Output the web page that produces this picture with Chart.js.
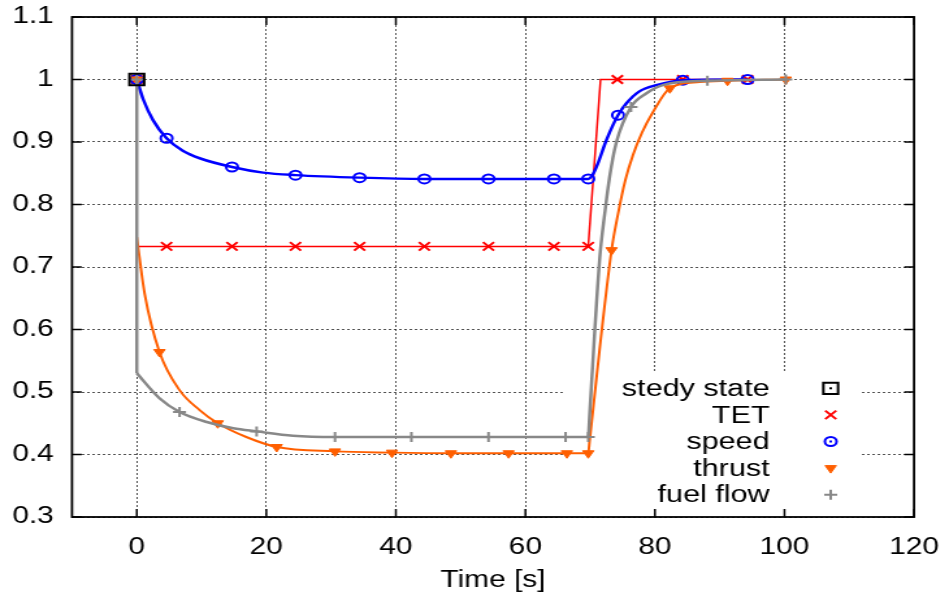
<!DOCTYPE html>
<html>
<head>
<meta charset="utf-8">
<title>Resposta no tempo</title>
<script src="https://cdn.jsdelivr.net/npm/chart.js@4.4.1/dist/chart.umd.min.js"></script>
<style>
  html, body { margin: 0; padding: 0; background: #fff; overflow: hidden; }
  /* a figura original e esticada na horizontal, entao o canvas tambem */
  #wrap { width: 724px; height: 596px; transform: scaleX(1.3); transform-origin: 0 0; }
</style>
</head>
<body>
<div id="wrap"><canvas id="chartResp" width="724" height="596"></canvas></div>
<script>
// ==================== DADOS ====================
const xTicks = [0, 20, 40, 60, 80, 100, 120];
const yTicks = [0.3, 0.4, 0.5, 0.6, 0.7, 0.8, 0.9, 1.0, 1.1];
const yTickLabels = ['0.3', '0.4', '0.5', '0.6', '0.7', '0.8', '0.9', '1', '1.1'];
const seriesNames = ['stedy state', 'TET', 'speed', 'thrust', 'fuel flow'];

// [tempo (s), valor normalizado]
const steadyMarks = [[0, 1.0]];

const tetCurve = [[0, 1.0], [0, 0.733], [69.7, 0.733], [71.6, 1.0], [94.3, 1.0]];
const tetMarks = [[0, 1.0], [4.6, 0.733], [14.7, 0.733], [24.5, 0.733], [34.4, 0.733], [44.4, 0.733],
  [54.3, 0.733], [64.4, 0.733], [69.7, 0.733], [74.2, 1.0], [84.3, 1.0], [94.3, 1.0]];

const speedCurve = [[0, 1.0], [1.0, 0.968], [2.5, 0.935], [4.6, 0.906], [7.1, 0.886], [9.7, 0.874],
  [14.7, 0.860], [19.5, 0.851], [24.5, 0.847], [34.4, 0.843], [44.4, 0.841], [69.7, 0.841],
  [70.4, 0.848], [71.2, 0.866], [72.5, 0.903], [74.3, 0.943], [75.6, 0.962], [77.6, 0.981],
  [80.2, 0.991], [84.3, 0.999], [94.3, 1.0]];
const speedMarks = [[0, 1.0], [4.6, 0.906], [14.7, 0.860], [24.5, 0.847], [34.4, 0.843], [44.4, 0.841],
  [54.3, 0.841], [64.4, 0.841], [69.7, 0.841], [74.3, 0.943], [84.3, 0.999], [94.3, 1.0]];

const thrustCurve = [[0, 0.748], [1.2, 0.658], [3.5, 0.564], [6.6, 0.503], [9.7, 0.471], [12.5, 0.450],
  [16.9, 0.428], [21.6, 0.412], [30.6, 0.405], [39.4, 0.403], [48.5, 0.402], [69.7, 0.402],
  [69.9, 0.421], [73.3, 0.727], [74.3, 0.785], [75.4, 0.838], [76.6, 0.879], [78.0, 0.915],
  [79.7, 0.948], [82.3, 0.986], [86.9, 0.996], [91.2, 0.998], [100.2, 1.0]];
const thrustMarks = [[0, 1.0], [3.5, 0.564], [12.5, 0.450], [21.6, 0.412], [30.6, 0.405], [39.4, 0.403],
  [48.5, 0.402], [57.4, 0.402], [66.4, 0.402], [69.7, 0.402], [73.3, 0.727], [82.3, 0.986],
  [91.2, 0.998], [100.2, 1.0]];

const fuelStep = [[0, 1.0], [0, 0.530]];
const fuelCurve = [[0, 0.530], [3.5, 0.490], [6.6, 0.468], [10.8, 0.452], [14.9, 0.442], [18.5, 0.437],
  [24.1, 0.430], [30.6, 0.428], [69.7, 0.428], [69.9, 0.461], [71.45, 0.711], [72.3, 0.790],
  [73.0, 0.844], [74.0, 0.898], [76.3, 0.956], [78.7, 0.978], [81.2, 0.991], [88.1, 0.998], [100.2, 1.0]];
const fuelMarks = [[0, 1.0], [6.6, 0.468], [18.5, 0.437], [30.6, 0.428], [42.4, 0.428], [54.3, 0.428],
  [66.2, 0.428], [69.7, 0.428], [76.3, 0.956], [88.1, 0.998], [100.2, 1.0]];

// ==================== ESTILOS ====================
const sty = {
  steady: { color: '#000000', fill: 'rgba(0,0,0,0)', shape: 'rect', radius: 8, rotation: 0, width: 2, dot: true },
  tet:    { color: '#ff0000', fill: 'rgba(0,0,0,0)', shape: 'crossRot', radius: 6, rotation: 0, width: 2, line: 1.5 },
  speed:  { color: '#0000ff', fill: 'rgba(0,0,0,0)', shape: 'circle', radius: 4.5, rotation: 0, width: 2, line: 2.5, dot: true },
  thrust: { color: '#ff5f00', fill: '#ff5f00', shape: 'triangle', radius: 5, rotation: 180, width: 1, line: 2 },
  fuel:   { color: '#888888', fill: 'rgba(0,0,0,0)', shape: 'cross', radius: 5, rotation: 0, width: 2, line: 2.5 }
};
const legendStyles = [sty.steady, sty.tet, sty.speed, sty.thrust, sty.fuel];

const toXY = pts => pts.map(([x, y]) => ({ x, y }));

function curveSet(pts, s, order, smooth) {
  return {
    data: toXY(pts), showLine: true, borderColor: s.color, borderWidth: s.line,
    pointRadius: 0, order: order,
    cubicInterpolationMode: smooth ? 'monotone' : 'default', tension: 0
  };
}
function markSet(pts, s, order) {
  return {
    data: toXY(pts), showLine: false, pointStyle: s.shape, pointRadius: s.radius,
    pointRotation: s.rotation, pointBorderWidth: s.width, pointBorderColor: s.color,
    pointBackgroundColor: s.fill, order: order
  };
}

function drawMark(ctx, s, x, y) {
  ctx.save();
  ctx.strokeStyle = s.color;
  ctx.fillStyle = s.fill;
  ctx.lineWidth = s.width;
  Chart.helpers.drawPoint(ctx, { pointStyle: s.shape, radius: s.radius, rotation: s.rotation, borderWidth: s.width }, x, y);
  if (s.dot) { ctx.fillStyle = s.color; ctx.fillRect(x - 1, y - 1, 2, 2); }
  ctx.restore();
}

// ==================== MOLDURA, TICKS INTERNOS E LEGENDA ====================
const moldura = {
  id: 'moldura',
  beforeDatasetsDraw(chart) {
    const ctx = chart.ctx;
    ctx.save();
    ctx.fillStyle = '#ffffff';
    ctx.fillRect(435, 373, 227, 135);
    ctx.restore();
  },
  afterDatasetsDraw(chart) {
    const { ctx, chartArea: a, scales: { x, y } } = chart;
    ctx.save();
    ctx.strokeStyle = '#000';
    ctx.lineWidth = 1.5;
    ctx.beginPath();
    xTicks.forEach(v => {
      const px = x.getPixelForValue(v);
      ctx.moveTo(px, a.bottom); ctx.lineTo(px, a.bottom - 8);
      ctx.moveTo(px, a.top); ctx.lineTo(px, a.top + 8);
    });
    yTicks.forEach(v => {
      const py = y.getPixelForValue(v);
      ctx.moveTo(a.left, py); ctx.lineTo(a.left + 7.5, py);
      ctx.moveTo(a.right, py); ctx.lineTo(a.right - 7.5, py);
    });
    ctx.stroke();
    ctx.lineWidth = 1.8;
    ctx.strokeRect(a.left, a.top, a.right - a.left, a.bottom - a.top);
    ctx.restore();
  },
  afterDraw(chart) {
    const ctx = chart.ctx;
    ctx.save();
    ctx.font = "23.5px 'Liberation Sans', Arial, sans-serif";
    ctx.fillStyle = '#000';
    ctx.textAlign = 'right';
    ctx.textBaseline = 'alphabetic';
    seriesNames.forEach((name, i) => {
      ctx.fillText(name, 592, 396 + i * 26.5);
      drawMark(ctx, legendStyles[i], 639, 388.3 + i * 26.6);
    });
    ctx.restore();
  }
};

// ==================== GRAFICO ====================
Chart.defaults.font.family = "'Liberation Sans', Arial, sans-serif";
Chart.defaults.font.size = 23;
Chart.defaults.color = '#000';

const cxResp = document.getElementById('chartResp');
const chtResp = new Chart(cxResp, {
  type: 'scatter',
  data: {
    datasets: [
      markSet(steadyMarks, sty.steady, 0),
      curveSet(fuelStep, sty.fuel, 1, false),
      curveSet(fuelCurve, sty.fuel, 1, true),
      markSet(fuelMarks, sty.fuel, 1),
      curveSet(thrustCurve, sty.thrust, 2, true),
      markSet(thrustMarks, sty.thrust, 2),
      curveSet(speedCurve, sty.speed, 3, true),
      markSet(speedMarks, sty.speed, 3),
      curveSet(tetCurve, sty.tet, 4, false),
      markSet(tetMarks, sty.tet, 4)
    ]
  },
  options: {
    responsive: false,
    animation: false,
    events: [],
    layout: { padding: { top: 17, right: 20.9, left: 0, bottom: 0 } },
    scales: {
      x: {
        type: 'linear', min: -10, max: 120,
        afterBuildTicks: s => { s.ticks = xTicks.map(v => ({ value: v })); },
        afterFit: s => { s.height = 79; },
        ticks: { padding: 0, maxRotation: 0, autoSkip: false },
        // marca de tick invisivel, so para afastar o texto do eixo
        grid: { color: 'rgba(0,0,0,0.85)', lineWidth: 0.8, drawTicks: true, tickLength: 17, tickColor: 'rgba(0,0,0,0)' },
        border: { display: false, dash: [2, 2] },
        title: { display: true, text: 'Time [s]', font: { size: 23 }, padding: { top: 0, bottom: 2 } }
      },
      y: {
        type: 'linear', min: 0.3, max: 1.1,
        afterBuildTicks: s => { s.ticks = yTicks.map(v => ({ value: v })); },
        afterFit: s => { s.width = 55.4; },
        ticks: { padding: 0, autoSkip: false, callback: (v, i) => yTickLabels[i] },
        grid: { color: 'rgba(0,0,0,0.85)', lineWidth: 0.8, drawTicks: true, tickLength: 14, tickColor: 'rgba(0,0,0,0)' },
        border: { display: false, dash: [2, 2] }
      }
    },
    plugins: {
      legend: { display: false },
      tooltip: { enabled: false }
    }
  },
  plugins: [moldura]
});
</script>
</body>
</html>
